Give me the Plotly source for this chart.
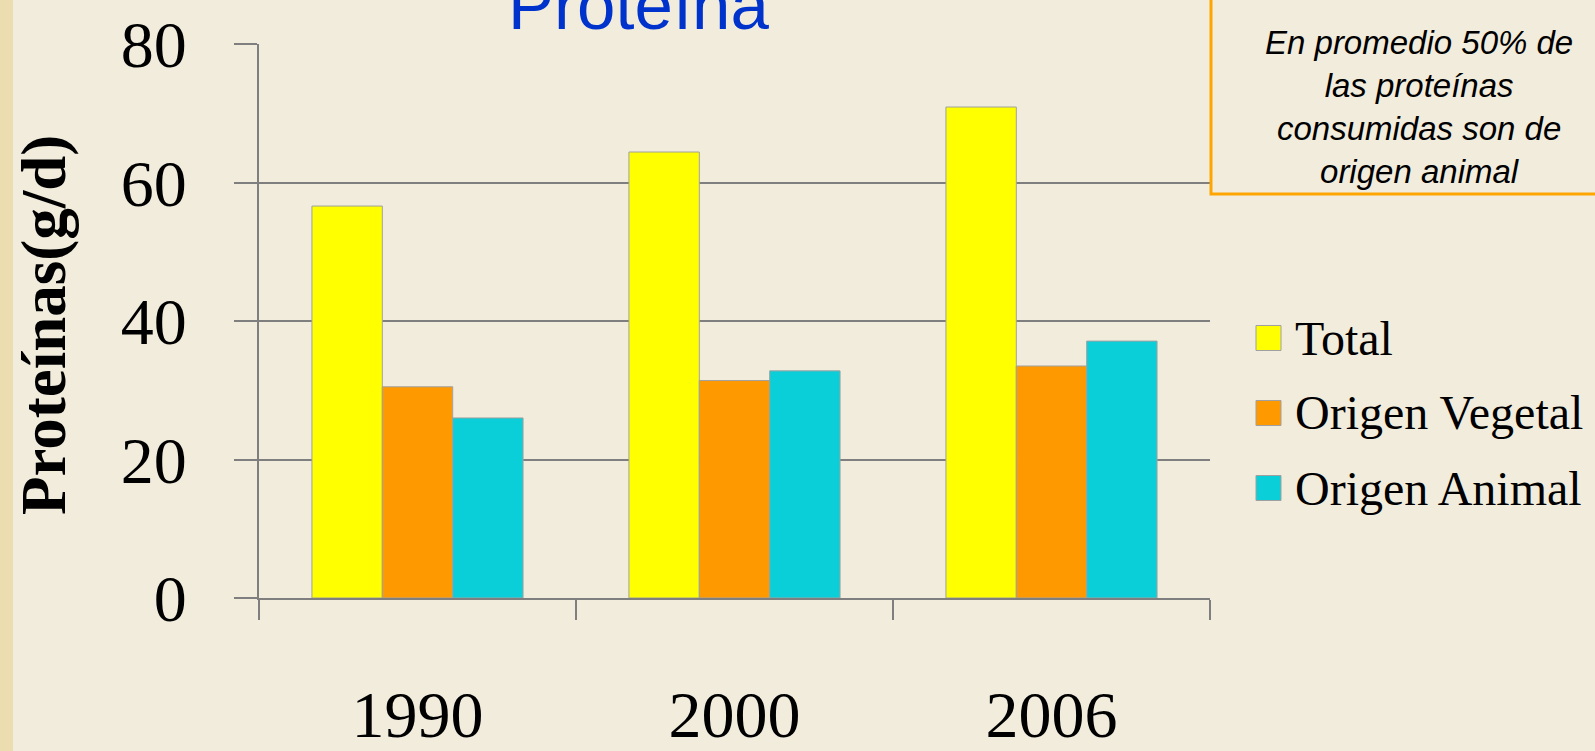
import plotly.graph_objects as go

# data
years = ["1990", "2000", "2006"]
series_names = ["Total", "Origen Vegetal", "Origen Animal"]
total = [56.6, 64.4, 70.9]
vegetal = [30.5, 31.4, 33.5]
animal = [26.0, 32.8, 37.1]
y_ticks = [0, 20, 40, 60, 80]

colors = ["#FFFF00", "#FF9900", "#0ACFD8"]
bg = "#F1ECDC"
grid = "#7F7F7F"
serif = "Liberation Serif, Times New Roman, serif"
sans = "Liberation Sans, Arial, sans-serif"

W, H = 1595, 751
L, R, T, B = 259, 1210, 44, 598


def px_x(x):
    return (x - L) / (R - L)


def px_y(y):
    return (B - y) / (B - T)


fig = go.Figure()
for name, vals, col in zip(series_names, [total, vegetal, animal], colors):
    fig.add_trace(go.Bar(
        x=years, y=vals, name=name, marker_color=col,
        marker_line=dict(color="#A0A0A0", width=1), showlegend=False,
    ))

fig.update_layout(
    width=W, height=H,
    margin=dict(l=L, r=W - R, t=T, b=H - B, autoexpand=False),
    paper_bgcolor=bg, plot_bgcolor=bg,
    barmode="group", bargap=0.334, bargroupgap=0,
    font=dict(family=serif, color="black"),
)
fig.update_xaxes(
    type="category", automargin=False, showline=True, linecolor=grid, linewidth=2,
    ticks="outside", tickson="boundaries", ticklen=20, tickwidth=2, tickcolor=grid,
    tickfont=dict(family=serif, size=66), ticklabelstandoff=58,
    showgrid=False,
)
fig.update_yaxes(
    range=[0, 80], tickvals=y_ticks, automargin=False,
    showline=True, linecolor=grid, linewidth=2,
    showgrid=True, gridcolor=grid, gridwidth=2, zeroline=False,
    ticks="outside", ticklen=23, tickwidth=2, tickcolor=grid,
    tickfont=dict(family=serif, size=66), ticklabelstandoff=34,
)

# left parchment edge
fig.add_shape(type="rect", xref="paper", yref="paper",
              x0=px_x(0), x1=px_x(13), y0=px_y(H), y1=px_y(0),
              fillcolor="#ECDDB0", line_width=0, layer="below")

# title (cut off at the top of the slide)
fig.add_annotation(text="Proteína", xref="paper", yref="paper",
                   x=px_x(638), y=px_y(5), xanchor="center", yanchor="middle",
                   showarrow=False, font=dict(family=sans, size=69, color="#0033CC"))

# y axis title
fig.add_annotation(text="<b>Proteínas(g/d)</b>", xref="paper", yref="paper",
                   x=px_x(44), y=px_y(325), xanchor="center", yanchor="middle",
                   textangle=-90, showarrow=False, font=dict(family=serif, size=63))

# note box
fig.add_shape(type="rect", xref="paper", yref="paper",
              x0=px_x(1211), x1=px_x(1660), y0=px_y(194), y1=px_y(-20),
              line=dict(color="#FFA500", width=3), fillcolor="rgba(0,0,0,0)")
fig.add_annotation(text="En promedio 50% de<br>las proteínas<br>consumidas son de<br>origen animal",
                   xref="paper", yref="paper", x=px_x(1419), y=px_y(107),
                   xanchor="center", yanchor="middle", align="center", showarrow=False,
                   font=dict(family=sans, size=33, color="black", style="italic"))

# legend drawn by hand so the swatches can be large
legend_y = [338, 413, 488]
for name, col, yy in zip(series_names, colors, legend_y):
    fig.add_shape(type="rect", xref="paper", yref="paper",
                  x0=px_x(1256), x1=px_x(1281), y0=px_y(yy + 12.5), y1=px_y(yy - 12.5),
                  fillcolor=col, line=dict(color="#A0A0A0", width=1))
    fig.add_annotation(text=name, xref="paper", yref="paper",
                       x=px_x(1293), y=px_y(yy), xanchor="left", yanchor="middle",
                       showarrow=False, font=dict(family=serif, size=48, color="black"))

fig.write_html("out.html", config={"displayModeBar": False},
               post_script="document.body.style.margin = '0';")
